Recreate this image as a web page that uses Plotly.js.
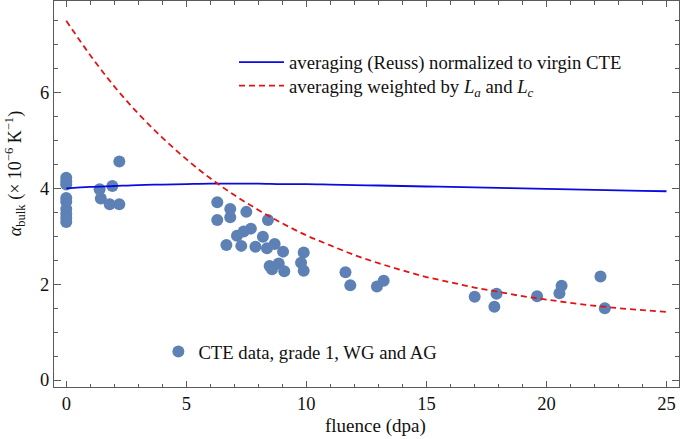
<!DOCTYPE html>
<html>
<head>
<meta charset="utf-8">
<script src="https://cdn.plot.ly/plotly-3.0.1.min.js"></script>
<style>html,body{margin:0;padding:0;background:#fff;}#chart{width:680px;height:439px;}</style>
</head>
<body>
<div id="chart"></div>
<script>
// Model curves
const curveX = [0,1,2,3,4,5,6,7,8,9,10,11,12,13,14,15,16,17,18,19,20,21,22,23,24,25];
const reussY = [4.00,4.03,4.05,4.07,4.08,4.09,4.10,4.10,4.10,4.09,4.09,4.08,4.07,4.06,4.05,4.04,4.03,4.02,4.01,4.00,3.99,3.98,3.97,3.96,3.95,3.94];
const weightedY = [7.50,6.78,6.13,5.56,5.06,4.61,4.21,3.86,3.55,3.27,3.02,2.81,2.61,2.44,2.29,2.15,2.04,1.93,1.84,1.75,1.68,1.61,1.55,1.50,1.46,1.42];

// CTE data points (fluence dpa, alpha)
const dataX = [0,0,0,0,0,0,0,0,0,
  1.39,1.44,1.81,1.92,2.21,2.21,
  6.29,6.29,6.83,6.83,7.50,8.40,7.69,7.39,7.11,6.67,7.29,7.88,8.19,8.36,8.68,9.03,
  8.47,8.85,8.57,9.08,9.89,9.78,9.89,
  11.63,11.83,12.94,13.22,17.01,17.92,17.83,19.61,20.54,20.63,22.25,22.43];
const dataY = [4.22,4.15,4.08,3.80,3.72,3.57,3.47,3.38,3.30,
  3.98,3.79,3.67,4.05,4.56,3.67,
  3.71,3.34,3.57,3.40,3.51,3.34,3.16,3.10,3.01,2.82,2.80,2.78,2.99,2.75,2.84,2.68,
  2.38,2.43,2.31,2.27,2.66,2.45,2.28,
  2.25,1.98,1.95,2.07,1.74,1.80,1.53,1.75,1.81,1.97,2.16,1.50];

const labelReuss = 'averaging (Reuss) normalized to virgin CTE';
const labelWeighted = 'averaging weighted by <i>L</i><sub><i>a</i></sub> and <i>L</i><sub><i>c</i></sub>';
const labelData = 'CTE data, grade 1, WG and AG';
const xTitle = 'fluence (dpa)';
const yTitle = '<i>α</i><sub>bulk</sub> (× 10<sup>−6</sup> K<sup>−1</sup>)';

const serif = 'Liberation Serif, Times New Roman, serif';
const frame = '#5a5a5a';
const ink = '#111';

const traces = [
  {x: dataX, y: dataY, type: 'scatter', mode: 'markers', name: labelData, legend: 'legend2',
   marker: {color: 'rgb(94,129,181)', size: 12}},
  {x: curveX, y: reussY, type: 'scatter', mode: 'lines', name: labelReuss, legend: 'legend',
   line: {color: 'rgb(10,10,225)', width: 1.8, shape: 'spline'}},
  {x: curveX, y: weightedY, type: 'scatter', mode: 'lines', name: labelWeighted, legend: 'legend3',
   line: {color: 'rgb(225,20,20)', width: 1.8, dash: '6px,4px', shape: 'spline'}}
];

const axisCommon = {
  showline: true, linecolor: frame, linewidth: 1, mirror: 'ticks',
  ticks: 'inside', tickcolor: frame, tickwidth: 1,
  showgrid: false, zeroline: false,
  tickfont: {family: serif, size: 18.5, color: ink},
  automargin: false
};

const legFont = {family: serif, size: 18.7, color: ink};

const layout = {
  width: 680, height: 439,
  margin: {l: 54, r: 1, t: 1, b: 52},
  paper_bgcolor: '#fff', plot_bgcolor: '#fff',
  font: {family: serif, size: 18, color: ink},
  xaxis: Object.assign({}, axisCommon, {
    range: [-0.51, 25.52], tickmode: 'linear', tick0: 0, dtick: 5, ticklen: 6,
    minor: {dtick: 1, ticklen: 3.5, tickcolor: frame, ticks: 'inside'}
  }),
  yaxis: Object.assign({}, axisCommon, {
    range: [-0.146, 7.912], tickmode: 'linear', tick0: 0, dtick: 2, ticklen: 7,
    minor: {dtick: 0.5, ticklen: 4, tickcolor: frame, ticks: 'inside'}
  }),
  annotations: [
    {text: xTitle, xref: 'paper', yref: 'paper', x: 0.515, y: -0.101, xanchor: 'center', yanchor: 'middle',
     showarrow: false, font: {family: serif, size: 19, color: ink}},
    {text: yTitle, xref: 'paper', yref: 'paper', x: -0.062, y: 0.552, xanchor: 'center', yanchor: 'middle',
     textangle: -90, showarrow: false, font: {family: serif, size: 18, color: ink}}
  ],
  legend: {x: 0.288, xanchor: 'left', y: 0.890, yanchor: 'top', bgcolor: 'rgba(0,0,0,0)',
    font: legFont, itemwidth: 45},
  legend3: {x: 0.288, xanchor: 'left', y: 0.829, yanchor: 'top', bgcolor: 'rgba(0,0,0,0)',
    font: legFont, itemwidth: 45},
  legend2: {x: 0.167, xanchor: 'left', y: 0.140, yanchor: 'top', bgcolor: 'rgba(0,0,0,0)',
    font: legFont},
  showlegend: true
};

Plotly.newPlot('chart', traces, layout, {staticPlot: true, displayModeBar: false});
</script>
</body>
</html>
